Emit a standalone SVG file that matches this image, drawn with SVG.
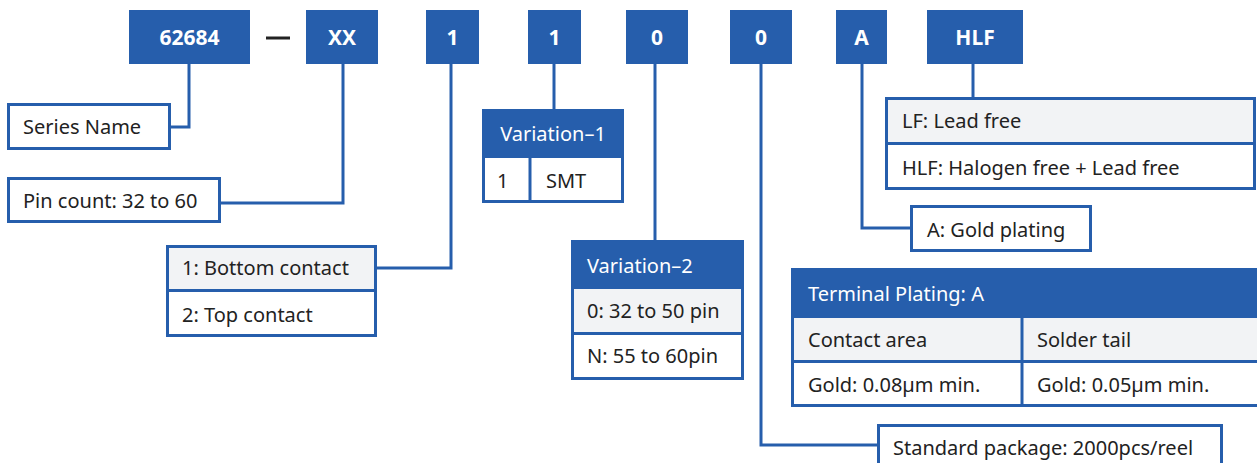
<svg xmlns="http://www.w3.org/2000/svg" width="1257" height="463" viewBox="0 0 1257 463">
<style>
.top{fill:#265EAC}
.tt{font-family:"Noto Sans","Liberation Sans",sans-serif;font-weight:bold;font-size:21px;fill:#fff;text-anchor:middle}
.box{fill:#fff;stroke:#265EAC;stroke-width:3}
.gray{fill:#F2F3F5;stroke:#265EAC;stroke-width:3}
.hdr{fill:#265EAC;stroke:#265EAC;stroke-width:3}
.t{font-family:"Noto Sans","Liberation Sans",sans-serif;font-size:20px;fill:#222}
.w{font-family:"Noto Sans","Liberation Sans",sans-serif;font-size:20px;fill:#fff}
.c{fill:none;stroke:#265EAC;stroke-width:3}
</style>
<g id="connectors">
<polyline class="c" points="189,64 189,127 171,127"/>
<polyline class="c" points="343,64 343,203 221,203"/>
<polyline class="c" points="451,64 451,268 377,268"/>
<polyline class="c" points="554,64 554,109"/>
<polyline class="c" points="655,64 655,240"/>
<polyline class="c" points="761,64 761,445 877,445"/>
<polyline class="c" points="862,64 862,228 910,228"/>
<polyline class="c" points="973,64 973,97"/>
</g>
<g id="code-62684"><rect class="top" x="129" y="10" width="121" height="54"/><text class="tt" x="189.5" y="45">62684</text></g>
<g id="dash"><line x1="266" y1="38" x2="290" y2="38" stroke="#222" stroke-width="3"/></g>
<g id="code-XX"><rect class="top" x="306" y="10" width="72" height="54"/><text class="tt" x="342" y="45">XX</text></g>
<g id="code-1a"><rect class="top" x="426" y="10" width="53" height="54"/><text class="tt" x="452.5" y="45">1</text></g>
<g id="code-1b"><rect class="top" x="528" y="10" width="53" height="54"/><text class="tt" x="554.5" y="45">1</text></g>
<g id="code-0a"><rect class="top" x="626" y="10" width="62" height="54"/><text class="tt" x="657" y="45">0</text></g>
<g id="code-0b"><rect class="top" x="730" y="10" width="62" height="54"/><text class="tt" x="761" y="45">0</text></g>
<g id="code-A"><rect class="top" x="836" y="10" width="51" height="54"/><text class="tt" x="861.5" y="45">A</text></g>
<g id="code-HLF"><rect class="top" x="927" y="10" width="96" height="54"/><text class="tt" x="975" y="45">HLF</text></g>

<g id="series-name"><rect class="box" x="8.5" y="104.5" width="161" height="44"/><text class="t" x="23" y="134">Series Name</text></g>
<g id="pin-count"><rect class="box" x="8.5" y="178.5" width="211" height="43"/><text class="t" x="23" y="208">Pin count: 32 to 60</text></g>
<g id="contact">
<rect class="gray" x="167.5" y="246.5" width="208" height="44"/>
<rect class="box" x="167.5" y="290.5" width="208" height="45"/>
<text class="t" x="182" y="275">1: Bottom contact</text>
<text class="t" x="182" y="322">2: Top contact</text>
</g>
<g id="variation-1">
<rect class="hdr" x="483.5" y="110.5" width="139" height="46"/>
<rect class="box" x="483.5" y="156.5" width="139" height="45"/>
<line class="c" x1="530" y1="156" x2="530" y2="202"/>
<text class="w" x="553" y="141" text-anchor="middle">Variation–1</text>
<text class="t" x="497" y="188">1</text>
<text class="t" x="546" y="188">SMT</text>
</g>
<g id="variation-2">
<rect class="hdr" x="572.5" y="241.5" width="170" height="46"/>
<rect class="gray" x="572.5" y="287.5" width="170" height="46"/>
<rect class="box" x="572.5" y="333.5" width="170" height="45"/>
<text class="w" x="587" y="273">Variation–2</text>
<text class="t" x="587" y="318">0: 32 to 50 pin</text>
<text class="t" x="587" y="363">N: 55 to 60pin</text>
</g>
<g id="lead-free">
<rect class="gray" x="886.5" y="98.5" width="368" height="45"/>
<rect class="box" x="886.5" y="143.5" width="368" height="45"/>
<text class="t" x="902" y="128">LF: Lead free</text>
<text class="t" x="902" y="175">HLF: Halogen free + Lead free</text>
</g>
<g id="gold-plating"><rect class="box" x="911.5" y="206.5" width="179" height="44"/><text class="t" x="927" y="237">A: Gold plating</text></g>
<g id="terminal-plating">
<rect class="hdr" x="792.5" y="269.5" width="470" height="47"/>
<rect class="gray" x="792.5" y="316.5" width="470" height="45"/>
<rect class="box" x="792.5" y="361.5" width="470" height="44"/>
<line class="c" x1="1022" y1="316" x2="1022" y2="406"/>
<text class="w" x="808" y="301">Terminal Plating: A</text>
<text class="t" x="808" y="347">Contact area</text>
<text class="t" x="1037" y="347">Solder tail</text>
<text class="t" x="808" y="392">Gold: 0.08µm min.</text>
<text class="t" x="1037" y="392">Gold: 0.05µm min.</text>
</g>
<g id="standard-package"><rect class="box" x="878.5" y="425.5" width="343" height="50"/><text class="t" x="893" y="455">Standard package: 2000pcs/reel</text></g>
</svg>
